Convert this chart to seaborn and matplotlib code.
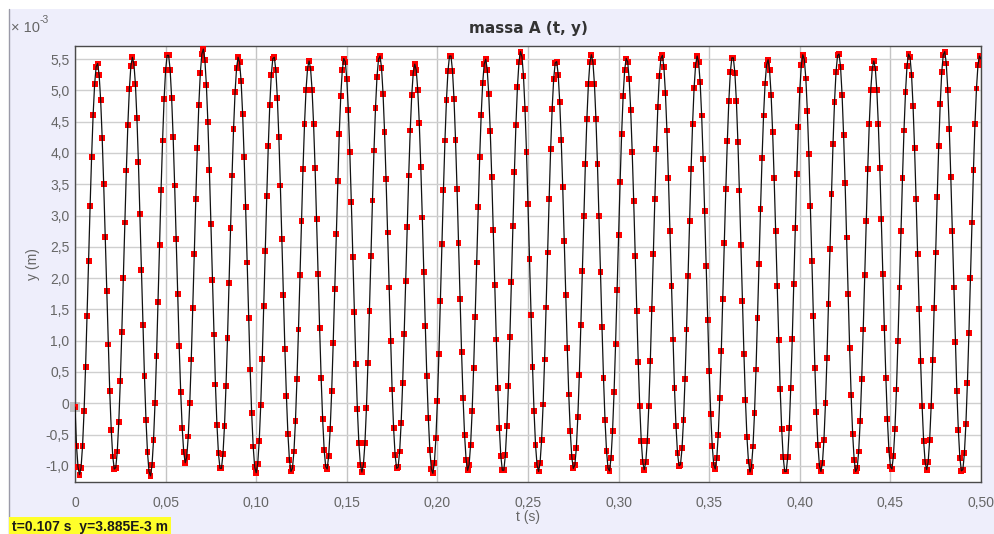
import numpy as np
import pandas as pd
import matplotlib
matplotlib.use("Agg")
import matplotlib.pyplot as plt
from matplotlib.patches import Rectangle
from matplotlib.lines import Line2D
import seaborn as sns

# Tracked vertical position of mass A (in units of 1e-3 m), one value per video frame
FRAME_RATE = 1200  # frames per second
y_mm = [
    -0.06, -0.68, -1.02, -1.14, -1.03, -0.68, -0.13, 0.58, 1.40, 2.28, 3.15, 3.94, 4.61, 5.10, 5.38,
    5.43, 5.24, 4.84, 4.24, 3.50, 2.66, 1.79, 0.94, 0.19, -0.42, -0.85, -1.05, -1.03, -0.77, -0.30, 0.35, 1.14, 2.00, 2.89, 3.72, 4.45, 5.02, 5.39, 5.53,
    5.43, 5.10, 4.56, 3.85, 3.02, 2.13, 1.25, 0.43, -0.26, -0.78, -1.09, -1.16, -0.99, -0.59, 0.01, 0.76, 1.62, 2.53, 3.41, 4.20, 4.86, 5.32, 5.56,
    5.56, 5.33, 4.88, 4.25, 3.48, 2.62, 1.75, 0.91, 0.18, -0.40, -0.78, -0.95, -0.86, -0.53, 0.00, 0.70, 1.52, 2.39, 3.27, 4.08, 4.77, 5.28, 5.58,
    5.66, 5.49, 5.09, 4.49, 3.73, 2.87, 1.97, 1.10, 0.30, -0.34, -0.80, -1.04, -1.04, -0.81, -0.36, 0.28, 1.05, 1.92, 2.80, 3.64, 4.38, 4.97, 5.36, 5.53,
    5.45, 5.15, 4.63, 3.94, 3.13, 2.25, 1.37, 0.54, -0.16, -0.69, -1.02, -1.11, -0.97, -0.60, -0.03, 0.71, 1.55, 2.44, 3.31, 4.11, 4.77, 5.25, 5.51,
    5.53, 5.32, 4.88, 4.25, 3.48, 2.62, 1.73, 0.87, 0.12, -0.49, -0.90, -1.09, -1.04, -0.77, -0.28, 0.39, 1.18, 2.05, 2.92, 3.75, 4.46, 5.01, 5.35,
    5.47, 5.35, 5.01, 4.46, 3.76, 2.94, 2.06, 1.20, 0.41, -0.25, -0.74, -1.01, -1.05, -0.84, -0.41, 0.20, 0.97, 1.82, 2.71, 3.55, 4.31, 4.91, 5.32, 5.51,
    5.46, 5.18, 4.69, 4.01, 3.21, 2.34, 1.46, 0.63, -0.09, -0.64, -0.98, -1.10, -0.98, -0.64, -0.08, 0.64, 1.47, 2.36, 3.24, 4.04, 4.72, 5.22, 5.50,
    5.55, 5.36, 4.95, 4.34, 3.58, 2.73, 1.85, 0.99, 0.22, -0.40, -0.83, -1.04, -1.02, -0.77, -0.31, 0.33, 1.11, 1.96, 2.82, 3.64, 4.36, 4.92, 5.28, 5.42,
    5.32, 5.00, 4.48, 3.78, 2.97, 2.10, 1.23, 0.43, -0.24, -0.75, -1.05, -1.12, -0.95, -0.56, 0.04, 0.79, 1.64, 2.54, 3.41, 4.20, 4.85, 5.31, 5.55,
    5.55, 5.31, 4.86, 4.21, 3.43, 2.56, 1.67, 0.82, 0.08, -0.51, -0.90, -1.07, -0.98, -0.66, -0.13, 0.57, 1.38, 2.25, 3.13, 3.93, 4.61, 5.12, 5.42,
    5.50, 5.33, 4.94, 4.35, 3.61, 2.77, 1.89, 1.02, 0.25, -0.39, -0.84, -1.07, -1.07, -0.83, -0.37, 0.27, 1.06, 1.94, 2.84, 3.70, 4.45, 5.05, 5.45, 5.62,
    5.54, 5.23, 4.71, 4.02, 3.19, 2.30, 1.41, 0.58, -0.13, -0.67, -0.99, -1.09, -0.95, -0.59, -0.02, 0.70, 1.53, 2.41, 3.27, 4.06, 4.71, 5.18, 5.44,
    5.46, 5.25, 4.82, 4.21, 3.45, 2.60, 1.73, 0.89, 0.14, -0.45, -0.86, -1.04, -0.99, -0.72, -0.22, 0.45, 1.25, 2.12, 3.00, 3.83, 4.55, 5.10, 5.45,
    5.57, 5.45, 5.10, 4.54, 3.82, 2.99, 2.10, 1.22, 0.41, -0.27, -0.76, -1.04, -1.08, -0.87, -0.44, 0.18, 0.95, 1.81, 2.69, 3.54, 4.30, 4.91, 5.32, 5.51,
    5.46, 5.18, 4.69, 4.02, 3.23, 2.36, 1.48, 0.66, -0.05, -0.60, -0.94, -1.06, -0.94, -0.60, -0.05, 0.67, 1.50, 2.38, 3.26, 4.06, 4.74, 5.23, 5.51,
    5.56, 5.37, 4.96, 4.36, 3.60, 2.76, 1.87, 1.02, 0.25, -0.36, -0.79, -1.00, -0.98, -0.72, -0.26, 0.39, 1.18, 2.04, 2.92, 3.75, 4.47, 5.04, 5.41, 5.55,
    5.45, 5.13, 4.60, 3.90, 3.08, 2.20, 1.33, 0.52, -0.17, -0.68, -0.98, -1.05, -0.88, -0.50, 0.09, 0.83, 1.67, 2.56, 3.42, 4.19, 4.83, 5.29, 5.52,
    5.52, 5.28, 4.83, 4.18, 3.40, 2.53, 1.64, 0.79, 0.05, -0.54, -0.93, -1.10, -1.01, -0.69, -0.16, 0.54, 1.36, 2.23, 3.11, 3.92, 4.60, 5.11, 5.41,
    5.49, 5.32, 4.93, 4.34, 3.60, 2.75, 1.87, 1.01, 0.23, -0.41, -0.86, -1.09, -1.09, -0.86, -0.40, 0.25, 1.03, 1.91, 2.80, 3.66, 4.41, 5.00, 5.40, 5.57,
    5.49, 5.19, 4.67, 3.98, 3.16, 2.28, 1.39, 0.57, -0.14, -0.67, -1.00, -1.09, -0.95, -0.58, 0.00, 0.73, 1.58, 2.47, 3.35, 4.15, 4.82, 5.30, 5.56,
    5.58, 5.37, 4.93, 4.29, 3.52, 2.65, 1.75, 0.89, 0.13, -0.49, -0.90, -1.09, -1.04, -0.77, -0.28, 0.39, 1.18, 2.05, 2.92, 3.75, 4.46, 5.01, 5.35,
    5.47, 5.35, 5.01, 4.46, 3.76, 2.94, 2.06, 1.20, 0.41, -0.25, -0.74, -1.01, -1.05, -0.84, -0.41, 0.22, 0.99, 1.85, 2.75, 3.60, 4.36, 4.97, 5.39, 5.58,
    5.53, 5.25, 4.75, 4.08, 3.27, 2.39, 1.51, 0.67, -0.04, -0.60, -0.94, -1.06, -0.94, -0.59, -0.04, 0.69, 1.52, 2.41, 3.30, 4.11, 4.79, 5.29, 5.57,
    5.62, 5.43, 5.01, 4.39, 3.62, 2.76, 1.85, 0.98, 0.20, -0.43, -0.87, -1.08, -1.06, -0.80, -0.33, 0.33, 1.12, 2.00, 2.89, 3.73, 4.46, 5.03, 5.41, 5.55,
    5.50,
]

x_ticks = [0, 0.05, 0.10, 0.15, 0.20, 0.25, 0.30, 0.35, 0.40, 0.45, 0.50]
x_tick_labels = ["0", "0,05", "0,10", "0,15", "0,20", "0,25", "0,30", "0,35", "0,40", "0,45", "0,50"]
y_ticks = [-1.0, -0.5, 0, 0.5, 1.0, 1.5, 2.0, 2.5, 3.0, 3.5, 4.0, 4.5, 5.0, 5.5]
y_tick_labels = ["-1,0", "-0,5", "0", "0,5", "1,0", "1,5", "2,0", "2,5", "3,0", "3,5",
                 "4,0", "4,5", "5,0", "5,5"]

title = "massa A (t, y)"
readout = "t=0.107 s  y=3.885E-3 m"

df = pd.DataFrame({"t": np.arange(len(y_mm)) / FRAME_RATE, "y": y_mm})

sns.set_theme(style="white")
plt.rcParams["font.family"] = ["DejaVu Sans"]
plt.rcParams["axes.unicode_minus"] = False

W, H = 995, 534
fig = plt.figure(figsize=(W / 100, H / 100), dpi=100)
fig.patch.set_facecolor("white")

# lavender panel behind the plot
panel_color = "#eeeefb"
fig.patches.append(Rectangle((9 / W, 0), 1 - 9 / W, 1 - 9 / H, transform=fig.transFigure,
                             facecolor=panel_color, edgecolor="none", zorder=-10))
fig.lines.append(Line2D([9 / W, 9 / W], [0, 1 - 9 / H], transform=fig.transFigure,
                        color="#9a9aa8", lw=1.0, zorder=-9))

left, right, top, bottom = 75, 981, 46, 481.5
ax = fig.add_axes([left / W, 1 - bottom / H, (right - left) / W, (bottom - top) / H])
ax.set_zorder(1)
ax.set_facecolor("white")

sns.scatterplot(data=df, x="t", y="y", ax=ax, marker="s", s=18, color="#ff0000",
                edgecolor="none", linewidth=0, zorder=3)
sns.lineplot(data=df, x="t", y="y", ax=ax, color="#111111", lw=0.9, sort=False,
             estimator=None, zorder=4)
# highlighted (selected) first point
ax.scatter([df["t"].iloc[0]], [df["y"].iloc[0]], marker="s", s=60, color="#9c9c9c",
           alpha=0.55, linewidths=0, zorder=2, clip_on=False)

ax.set_xlim(0, 0.5)
ax.set_ylim(-1.25, 5.71)

ax.set_xticks(x_ticks)
ax.set_xticklabels(x_tick_labels)
ax.set_yticks(y_ticks)
ax.set_yticklabels(y_tick_labels)
ax.tick_params(axis="x", direction="inout", length=5, width=1, color="#555555",
               pad=8, labelsize=10, labelcolor="#666666")
ax.tick_params(axis="y", length=0, pad=4, labelsize=10, labelcolor="#666666")
for lab in ax.get_xticklabels() + ax.get_yticklabels():
    lab.set_fontfamily("Liberation Sans")

ax.grid(True, axis="y", color="#cfcfcf", lw=1.0)
ax.grid(True, axis="x", color="#c4c4c4", lw=1.0)
ax.set_axisbelow(True)
for sp in ax.spines.values():
    sp.set_visible(True)
    sp.set_color("#4a4a4a")
    sp.set_linewidth(1.0)
ax.set_xlabel("")
ax.set_ylabel("")

fig.text(528 / W, 1 - 28 / H, title, ha="center", va="center", fontsize=11,
         fontweight="bold", color="#333333")
fig.text(528 / W, 1 - 517 / H, "t (s)", ha="center", va="center", fontsize=10,
         color="#666666", family="Liberation Sans")
fig.text(33 / W, 1 - 264 / H, "y (m)", ha="center", va="center", rotation=90,
         fontsize=10, color="#666666", family="Liberation Sans")

# axis multiplier
fig.text(11 / W, 1 - 32 / H, "\u00d7 10", ha="left", va="baseline", fontsize=10.5,
         color="#666666", family="Liberation Sans")
fig.text(39.5 / W, 1 - 23 / H, "-3", ha="left", va="baseline", fontsize=7.5,
         color="#666666", family="Liberation Sans")

# cursor readout
fig.text(12 / W, 1 - 527 / H, readout, ha="left", va="center", fontsize=10,
         fontweight="bold", color="#1a1a1a", family="Liberation Sans",
         bbox=dict(boxstyle="square,pad=0.25", facecolor="#ffff2a", edgecolor="none"))

fig.savefig("out.png", dpi=100, facecolor=fig.get_facecolor())
